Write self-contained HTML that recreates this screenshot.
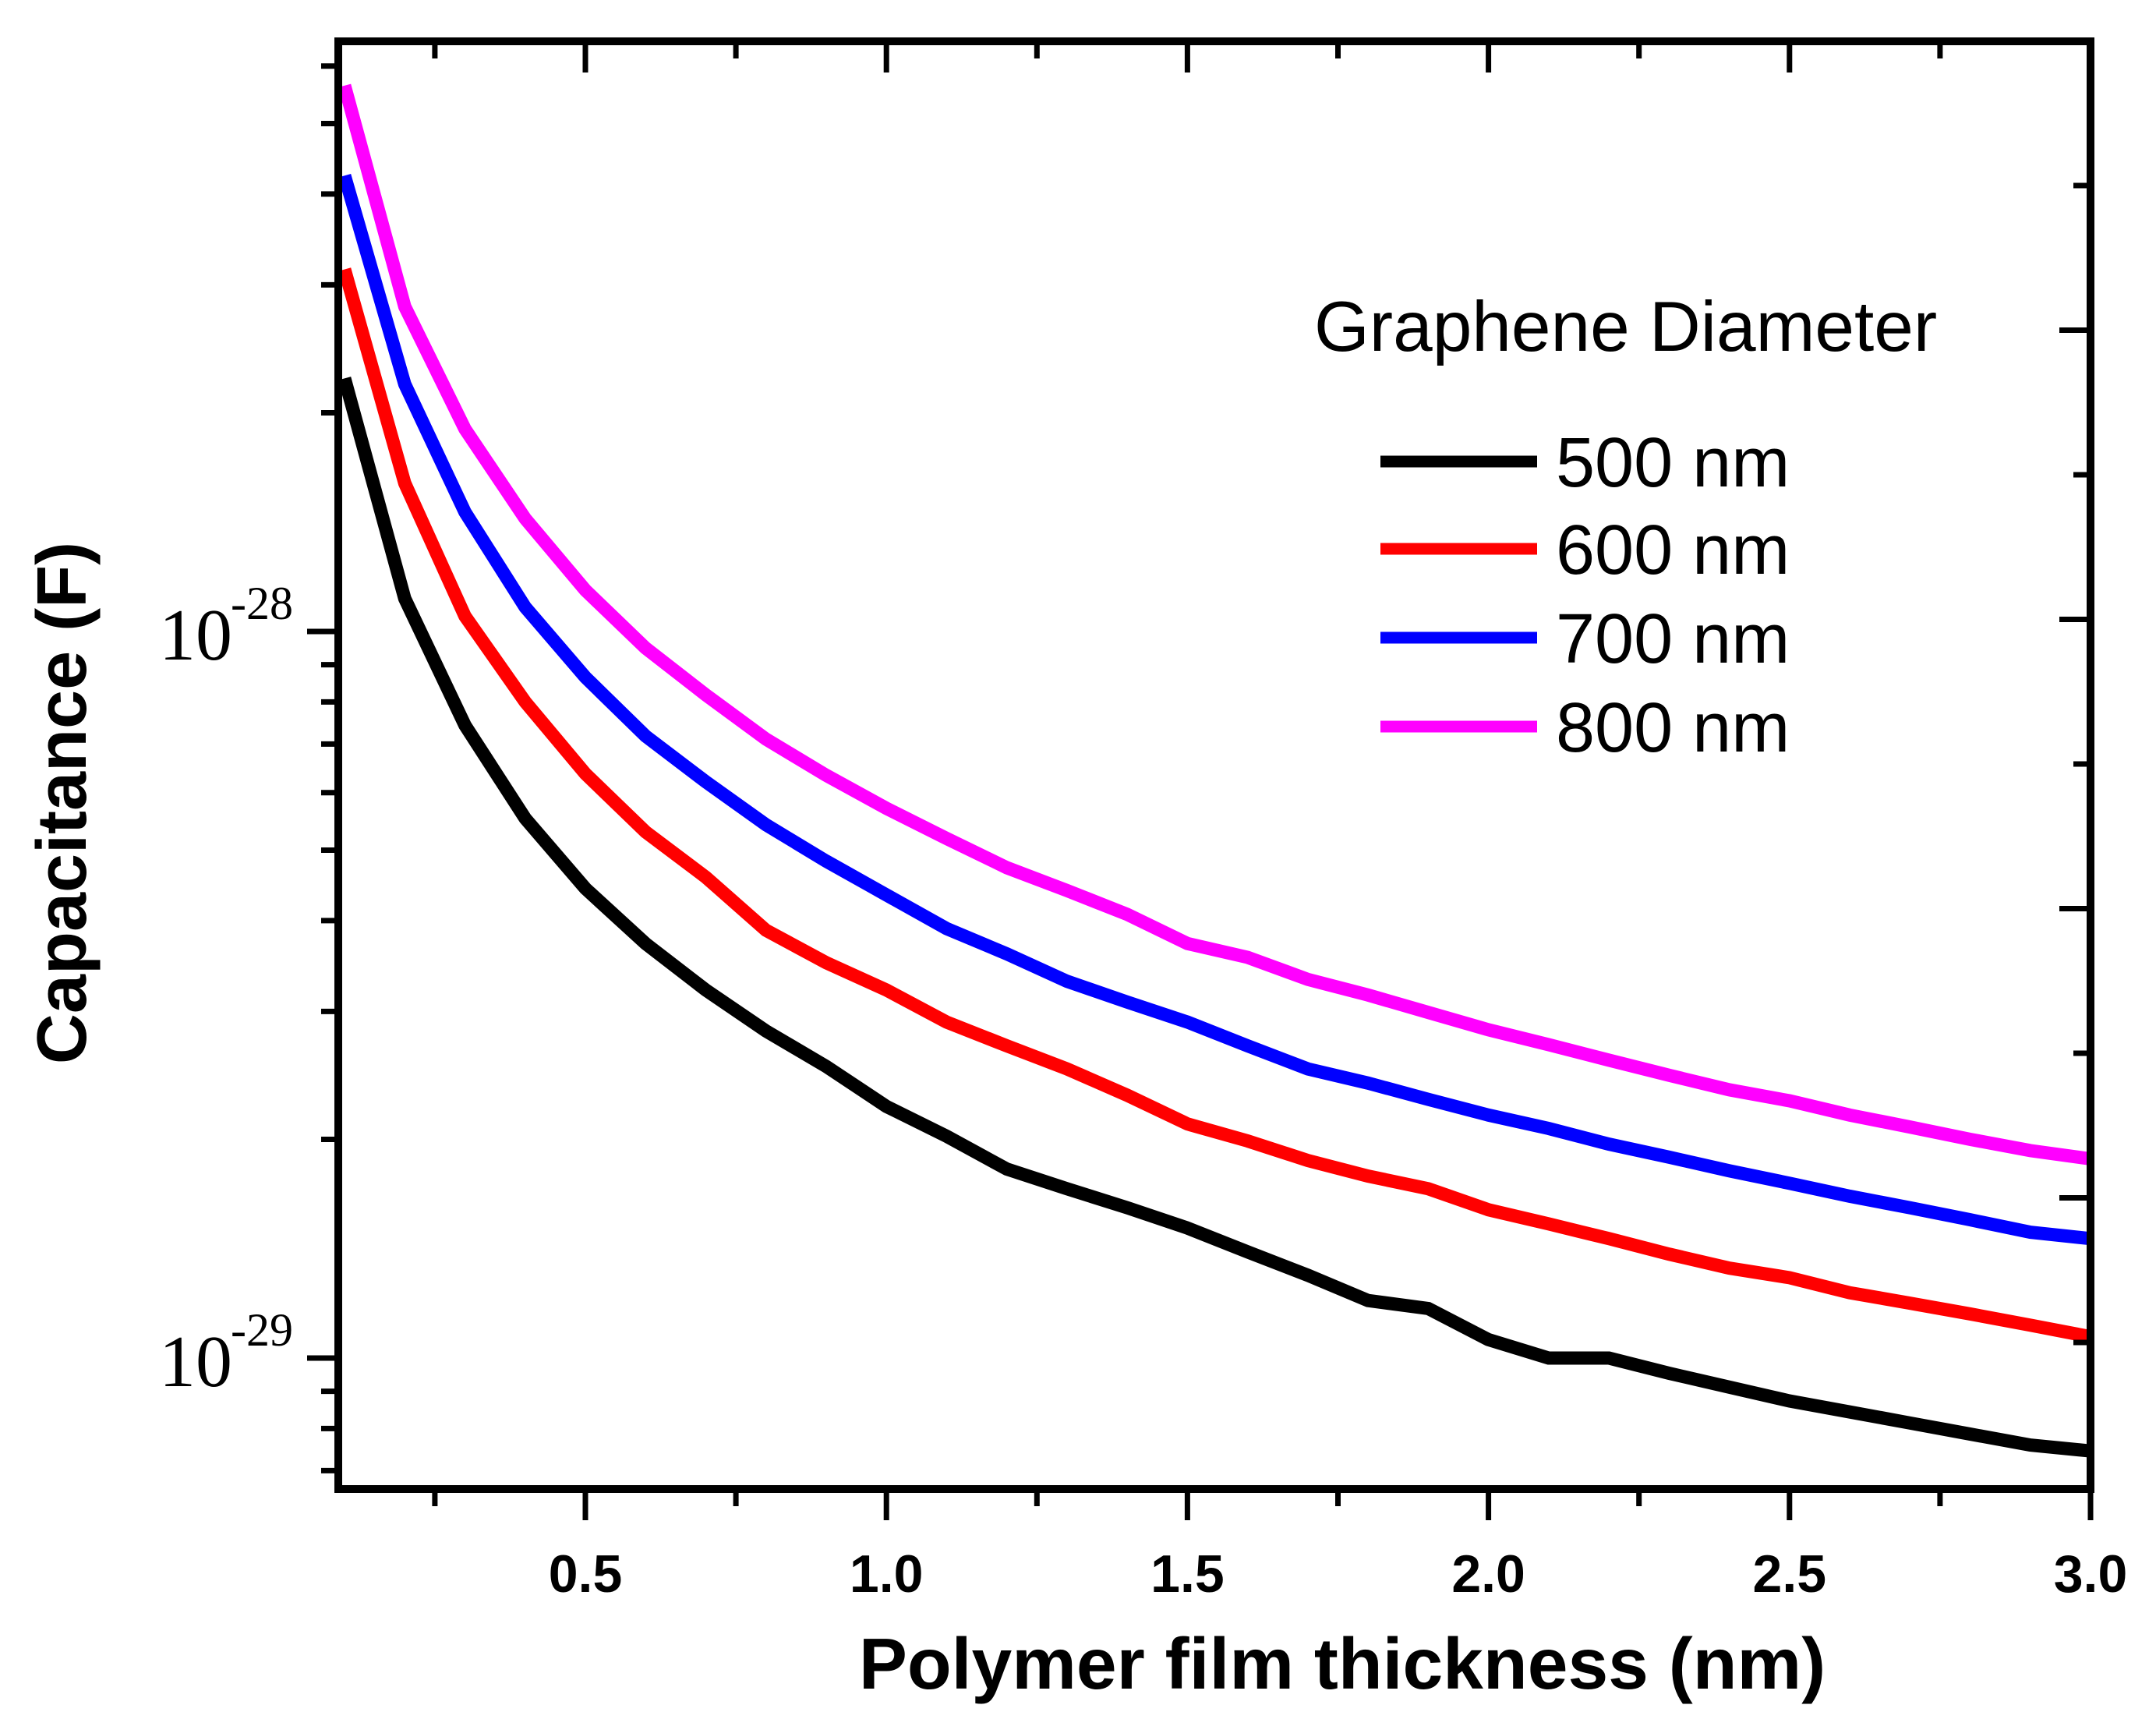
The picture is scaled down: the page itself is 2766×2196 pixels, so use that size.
<!DOCTYPE html>
<html><head><meta charset="utf-8"><style>html,body{margin:0;padding:0;background:#fff}svg{display:block}</style></head>
<body>
<svg id="chart" width="2766" height="2196" viewBox="0 0 2766 2196" xmlns="http://www.w3.org/2000/svg">
<g id="plot"></g>
</svg>
<script>
const thickness = [0.1,0.2,0.3,0.4,0.5,0.6,0.7,0.8,0.9,1.0,1.1,1.2,1.3,1.4,1.5,1.6,1.7,1.8,1.9,2.0,2.1,2.2,2.3,2.4,2.5,2.6,2.7,2.8,2.9,3.0];
// capacitance in units of 1e-29 F
const cap500 = [22.3,11.1,7.43,5.53,4.43,3.72,3.21,2.82,2.52,2.22,2.02,1.82,1.71,1.61,1.51,1.40,1.30,1.20,1.17,1.06,1.00,1.00,0.953,0.912,0.873,0.843,0.814,0.786,0.759,0.745];
const cap600 = [31.5,16.0,10.5,8.00,6.37,5.30,4.59,3.88,3.50,3.21,2.90,2.69,2.50,2.30,2.10,1.99,1.87,1.78,1.71,1.60,1.53,1.46,1.39,1.33,1.29,1.23,1.19,1.15,1.11,1.07];
const cap700 = [42.4,21.9,14.6,10.8,8.65,7.18,6.21,5.42,4.83,4.34,3.90,3.60,3.30,3.09,2.90,2.69,2.50,2.39,2.27,2.16,2.07,1.97,1.89,1.81,1.74,1.67,1.61,1.55,1.49,1.46];
const cap800 = [56.4,28.0,19.0,14.3,11.4,9.49,8.18,7.11,6.34,5.71,5.19,4.73,4.40,4.08,3.72,3.56,3.32,3.16,2.99,2.83,2.70,2.57,2.45,2.34,2.26,2.16,2.08,2.00,1.93,1.88];
const seriesLabels = ["500 nm","600 nm","700 nm","800 nm"];
const seriesColors = ["#000000","#ff0000","#0000ff","#ff00ff"];
const xTickLabels = ["0.5","1.0","1.5","2.0","2.5","3.0"];
const xTickValues = [0.5,1.0,1.5,2.0,2.5,3.0];
const yDecades = [-28,-29];

const L=434,R=2682,T=53,B=1910;
function xs(v){return 751+(v-0.5)*772.4;}
function ys(v){return 1742-Math.log10(v)*932;} // v in 1e-29 units
const NS="http://www.w3.org/2000/svg";
const g=document.getElementById('plot');
function mk(tag,attrs,parent){const e=document.createElementNS(NS,tag);for(const k in attrs)e.setAttribute(k,attrs[k]);(parent||g).appendChild(e);return e;}

const allSeries=[cap500,cap600,cap700,cap800];
allSeries.forEach((s,i)=>{
  const d=s.map((v,j)=>(j?'L':'M')+xs(thickness[j]).toFixed(1)+' '+ys(v).toFixed(1)).join(' ');
  const p=mk('path',{d:d,fill:'none',stroke:seriesColors[i],'stroke-width':17,'stroke-linejoin':'miter'});
  
  
});

const fr=mk('rect',{x:L,y:T,width:R-L,height:B-T,fill:'none',stroke:'#000','stroke-width':10});



for(let v=0.25;v<=3.001;v+=0.25){
  const x=xs(v), major=Math.abs(v*2-Math.round(v*2))<1e-6;
  const len=major?40:22;
  const t=mk('line',{x1:x,y1:B,x2:x,y2:B+len,stroke:'#000','stroke-width':7});
  
  
  const t2=mk('line',{x1:x,y1:T,x2:x,y2:T+len,stroke:'#000','stroke-width':7});
  
  
}
xTickLabels.forEach((lab,i)=>{
  const t=mk('text',{x:xs(xTickValues[i]),y:2042,'text-anchor':'middle','font-family':'Liberation Sans, sans-serif','font-weight':'bold','font-size':68});
  t.textContent=lab;
  
  
});

for(let dec=-1;dec<=1;dec++){
  for(let m=1;m<=9;m++){
    const v=m*Math.pow(10,dec), y=ys(v);
    if(y<T+5||y>B)continue;
    const len=m===1?40:22;
    const t=mk('line',{x1:L,y1:y,x2:L-len,y2:y,stroke:'#000','stroke-width':7});
    
    
  }
}
for(let k=0;k<9;k++){
  const y=238+k*185.5, len=(k%2===1)?40:22;
  const t2=mk('line',{x1:R,y1:y,x2:R-len,y2:y,stroke:'#000','stroke-width':7});
  
  
}
yDecades.forEach(d=>{
  const y=ys(Math.pow(10,d+29));
  const t=mk('text',{x:298,y:y+36,'text-anchor':'end','font-family':'Liberation Serif, serif','font-size':94});
  t.textContent='10';
  
  
  const s=mk('text',{x:296,y:y-16,'text-anchor':'start','font-family':'Liberation Serif, serif','font-size':60});
  s.textContent=String(d);
  
  
});

const xt=mk('text',{x:1722,y:2166,'text-anchor':'middle','font-family':'Liberation Sans, sans-serif','font-weight':'bold','font-size':93});
xt.textContent='Polymer film thickness (nm)';


const yt=mk('text',{x:0,y:0,'text-anchor':'middle','font-family':'Liberation Sans, sans-serif','font-weight':'bold','font-size':90,transform:'translate(110,1030) rotate(-90)'});
yt.textContent='Capacitance (F)';



const lt=mk('text',{x:1686,y:450,'font-family':'Liberation Sans, sans-serif','font-size':91});
lt.textContent='Graphene Diameter';


const legY=[592,704,818,932];
seriesLabels.forEach((lab,i)=>{
  const l=mk('line',{x1:1771,y1:legY[i],x2:1972,y2:legY[i],stroke:seriesColors[i],'stroke-width':15});
  
  
  const t=mk('text',{x:1996,y:legY[i]+32,'font-family':'Liberation Sans, sans-serif','font-size':90});
  t.textContent=lab;
  
  
});
</script>
</body></html>
